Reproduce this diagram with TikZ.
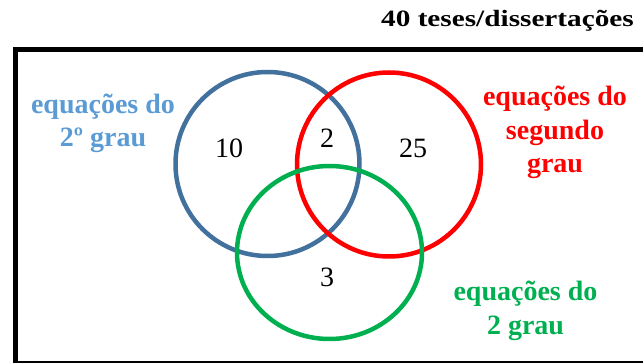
\documentclass[tikz,border=0pt]{standalone}
\usepackage{fontspec}
\setmainfont{Liberation Serif}
\newfontfamily\heavyserif{LiberationSerif-Bold.ttf}
\usepackage{tikz}
\usetikzlibrary{shapes.geometric}
\definecolor{ringblue}{HTML}{41719C}
\definecolor{labelblue}{HTML}{5B9BD5}
\definecolor{ringred}{HTML}{FF0000}
\definecolor{ringgreen}{HTML}{00B050}
\begin{document}
\begin{tikzpicture}[x=1pt,y=-1pt,
    ring/.style={circle,line width=4.5pt,minimum size=184pt,inner sep=0pt},
    count/.style={font=\fontsize{28}{33}\selectfont},
    setlabel/.style={align=center,font=\heavyserif\fontsize{28}{33.5}\selectfont}]
          \useasboundingbox (0,0) rectangle (643,363);
          \clip (0,0) rectangle (643,363);
          % Draw the box
          \draw[line width=5pt] (15.5,50) rectangle (655,363.5);
          \node[anchor=base,inner sep=0pt,font=\heavyserif\fontsize{23.4}{28}\selectfont] (total) at (507.5,27)
               {\scalebox{1.25}[1]{40 teses/dissertações}};
          % sets
          \node[ring,draw=ringblue] (blueset) at (267.5,164) {};
          \node[ring,draw=ringred] (redset) at (389,164.5) {};
          \node[ellipse,line width=4.5pt,minimum width=185pt,minimum height=173pt,inner sep=0pt,
                draw=ringgreen] (greenset) at (329.5,252.5) {};
          % counts
          \node[count] (n10) at (229,148) {10};
          \node[count] (n2) at (327,138) {2};
          \node[count] (n25) at (413,148) {25};
          \node[count] (n3) at (327,277) {3};
          % labels
          \node[setlabel,labelblue] (bluename) at (103,123.5) {equações do\\2º grau};
          \node[setlabel,ringred] (redname) at (555,132.5) {equações do\\segundo\\grau};
          \node[setlabel,ringgreen] (greenname) at (525.5,311) {equações do\\2 grau};
\end{tikzpicture}
\end{document}
